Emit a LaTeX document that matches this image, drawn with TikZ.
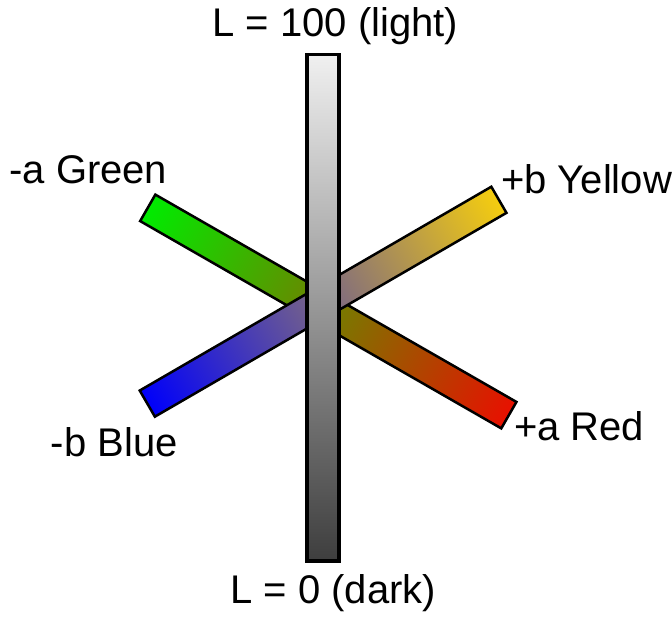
\documentclass[tikz,border=0pt]{standalone}
\usepackage{fontspec}
\setmainfont{Liberation Sans}
\definecolor{cgreen}{RGB}{0,235,0}
\definecolor{cred}{RGB}{232,16,0}
\definecolor{cblue}{RGB}{0,0,250}
\definecolor{cyellow}{RGB}{245,205,15}
\definecolor{ctop}{RGB}{240,240,240}
\definecolor{cbot}{RGB}{62,62,62}
\begin{document}
\begin{tikzpicture}[x=1pt,y=-1pt,
  lab/.style={font=\fontsize{40}{48}\selectfont, inner sep=0pt, anchor=base},
  colbar/.style={draw=black, line width=2.5pt, line join=miter},
  graybar/.style={draw=black, line width=3.5pt, top color=ctop, bottom color=cbot}]
\useasboundingbox (0,0) rectangle (672,617);
% green -> red bar (bottom layer)
\begin{scope}[transform canvas={shift={(328.3,311.5)},rotate=-29.86}]
  \shade[colbar, left color=cgreen, right color=cred] (-208.2,-15.25) rectangle (208.2,15.25);
\end{scope}
% blue -> yellow bar
\begin{scope}[transform canvas={shift={(323.1,301.7)},rotate=30.1}]
  \shade[colbar, left color=cblue, right color=cyellow] (-203.2,-15.1) rectangle (203.2,15.1);
\end{scope}
% lightness bar
\shade[graybar] (306.8,54.5) rectangle (338.9,560.9);
% labels
\node[lab] (light) at (335.5,36.7) {L = 100 (light)};
\node[lab] (dark) at (333.3,603.3) {L = 0 (dark)};
\node[lab] (green) at (88.3,183.3) {-a Green};
\node[lab] (yellow) at (586.5,193.3) {+b Yellow};
\node[lab] (blue) at (114.2,456.7) {-b Blue};
\node[lab] (red) at (579.2,440) {+a Red};
\end{tikzpicture}
\end{document}
